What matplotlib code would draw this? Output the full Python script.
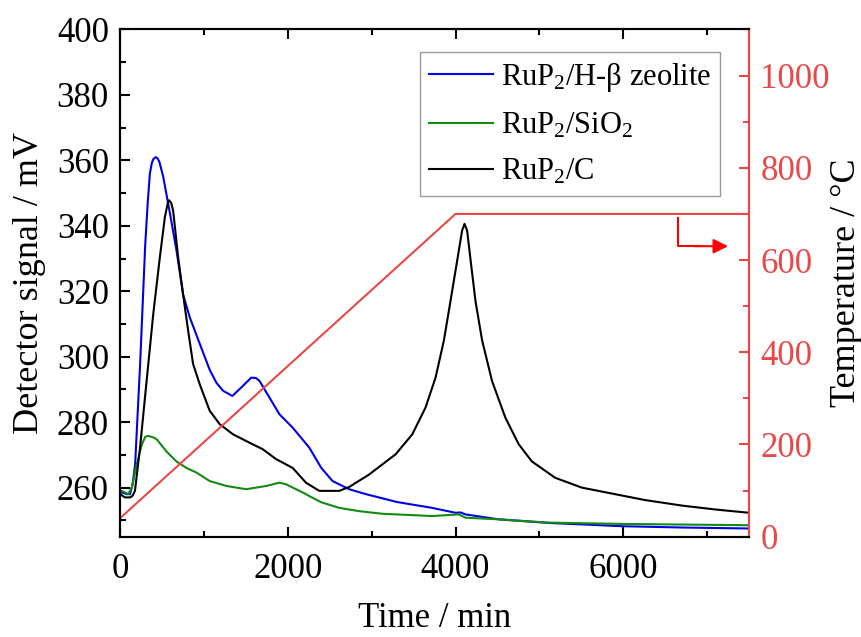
import matplotlib

matplotlib.use("Agg")
import matplotlib.pyplot as plt
from matplotlib.ticker import MultipleLocator

plt.rcParams["font.family"] = ["Liberation Serif", "DejaVu Serif"]
plt.rcParams["mathtext.fontset"] = "custom"
plt.rcParams["mathtext.rm"] = "Liberation Serif"
plt.rcParams["mathtext.it"] = "Liberation Serif:italic"

# detector signal, RuP2/H-beta zeolite
t_zeolite = [0, 40, 80, 120, 150, 180, 240, 300, 330, 356, 380, 400, 428, 450, 470,
             515, 594, 673, 752, 832, 950, 1069, 1150, 1228, 1339, 1446, 1564, 1620,
             1663, 1782, 1901, 2059, 2257, 2400, 2534, 2731, 2931, 3300, 3722, 4000,
             4060, 4120, 4514, 5108, 5980, 6700, 7500]
s_zeolite = [258.5, 258.4, 258.0, 258.0, 261.0, 267.0, 298.0, 334.0, 347.0, 356.0,
             359.3, 360.5, 361.0, 360.5, 359.5, 355.0, 344.0, 332.5, 319.0, 312.0,
             304.0, 296.0, 292.0, 289.6, 288.0, 290.6, 293.6, 293.5, 292.6, 287.5,
             282.4, 278.3, 272.2, 266.0, 262.0, 259.5, 258.0, 255.6, 253.8, 252.3,
             252.4, 251.8, 250.3, 249.2, 248.2, 247.8, 247.5]

# detector signal, RuP2/SiO2
t_silica = [0, 20, 60, 99, 140, 198, 258, 300, 336, 400, 436, 555, 673, 792, 911,
            1069, 1267, 1505, 1743, 1901, 1980, 2099, 2217, 2257, 2400, 2614, 2850,
            3128, 3722, 4039, 4119, 4514, 5108, 5980, 7500]
s_silica = [259.0, 259.0, 258.5, 258.0, 260.0, 267.0, 273.0, 275.5, 275.8, 275.3,
            274.8, 271.0, 268.0, 266.0, 264.6, 262.0, 260.5, 259.5, 260.5, 261.5,
            261.0, 259.5, 258.0, 257.4, 255.5, 253.8, 252.8, 252.0, 251.3, 251.8,
            250.8, 250.3, 249.3, 248.9, 248.5]

# detector signal, RuP2/C
t_carbon = [0, 60, 119, 150, 178, 238, 317, 396, 475, 535, 570, 586, 610, 633, 693,
            752, 812, 871, 950, 1069, 1188, 1346, 1545, 1703, 1861, 2059, 2217, 2376,
            2495, 2614, 2733, 2970, 3287, 3485, 3643, 3762, 3861, 3940, 4020, 4079,
            4107, 4138, 4190, 4238, 4317, 4435, 4594, 4752, 4910, 5188, 5504, 5900,
            6257, 6700, 7100, 7500]
s_carbon = [258.0, 257.0, 257.0, 257.5, 259.0, 272.0, 292.6, 313.0, 330.4, 342.7,
            347.0, 347.8, 347.0, 344.7, 330.4, 319.0, 308.0, 297.8, 291.6, 283.5,
            279.4, 276.3, 273.7, 271.7, 268.7, 266.0, 261.5, 259.0, 259.0, 259.0,
            260.2, 264.0, 270.2, 276.3, 284.5, 293.6, 304.9, 317.0, 329.4, 338.6,
            340.6, 338.6, 327.3, 317.0, 305.0, 292.6, 281.4, 273.3, 268.0, 263.0,
            260.0, 258.0, 256.2, 254.5, 253.3, 252.3]

# temperature programme
t_temp = [0, 4000, 7500]
temp = [40, 700, 700]

labels = [r"RuP$_2$/H-β zeolite", r"RuP$_2$/SiO$_2$", r"RuP$_2$/C"]
colors = ["#0000E6", "#128A12", "#000000"]
RED = "#E84848"


def main():
    fig = plt.figure(figsize=(8.61, 6.37), dpi=100)
    ax = fig.add_axes([0.1394, 0.1575, 0.7306, 0.7962])
    ax2 = ax.twinx()

    series = [(t_zeolite, s_zeolite), (t_silica, s_silica), (t_carbon, s_carbon)]
    for (t, s), lab, c in zip(series, labels, colors):
        ax.plot(t, s, color=c, lw=1.5, label=lab)

    ax2.plot(t_temp, temp, color=RED, lw=1.5)

    # bent arrow pointing at the temperature axis
    ax2.plot([6653, 6653, 6900], [691, 630, 630], color="red", lw=1.5)
    ax2.annotate("", xy=(7250, 630), xytext=(6850, 630),
                 arrowprops=dict(arrowstyle="-|>", color="red", lw=1.5,
                                 mutation_scale=22, shrinkA=0, shrinkB=0))

    ax.set_xlim(0, 7500)
    ax.set_ylim(245, 400)
    ax2.set_ylim(0, 1100)

    ax.xaxis.set_major_locator(MultipleLocator(2000))
    ax.xaxis.set_minor_locator(MultipleLocator(1000))
    ax.yaxis.set_major_locator(MultipleLocator(20))
    ax.yaxis.set_minor_locator(MultipleLocator(10))
    ax2.yaxis.set_major_locator(MultipleLocator(200))
    ax2.yaxis.set_minor_locator(MultipleLocator(100))

    fs = 25
    ax.tick_params(which="both", direction="in", top=True, right=False,
                   width=1.5, labelsize=fs, pad=8)
    ax.tick_params(axis="x", pad=12)
    ax.tick_params(which="major", length=7)
    ax.tick_params(which="minor", length=4)
    ax2.tick_params(which="both", direction="in", width=1.5, labelsize=fs,
                    pad=8, colors=RED)
    ax2.tick_params(which="major", length=7)
    ax2.tick_params(which="minor", length=4)

    for sp in ax.spines.values():
        sp.set_linewidth(1.5)
    for sp in ax2.spines.values():
        sp.set_linewidth(1.5)
    ax2.spines["right"].set_color(RED)

    ax.set_xlabel("Time / min", fontsize=fs)
    ax.xaxis.set_label_coords(0.5, -0.128)
    ax.set_ylabel("Detector signal / mV", fontsize=26)
    ax.yaxis.set_label_coords(-0.118, 0.5)
    ax2.set_ylabel("Temperature / °C", fontsize=26, color="black")
    ax2.yaxis.set_label_coords(1.128, 0.5)

    leg = ax.legend(loc="upper right", bbox_to_anchor=(0.954, 0.956),
                    borderaxespad=0, fancybox=False, edgecolor="#999999",
                    fontsize=22, handlelength=2.1, handletextpad=0.25,
                    labelspacing=0.55, borderpad=0.3, framealpha=1)
    leg.get_frame().set_linewidth(1.0)

    fig.savefig("out.png", dpi=100)


if __name__ == "__main__":
    main()
